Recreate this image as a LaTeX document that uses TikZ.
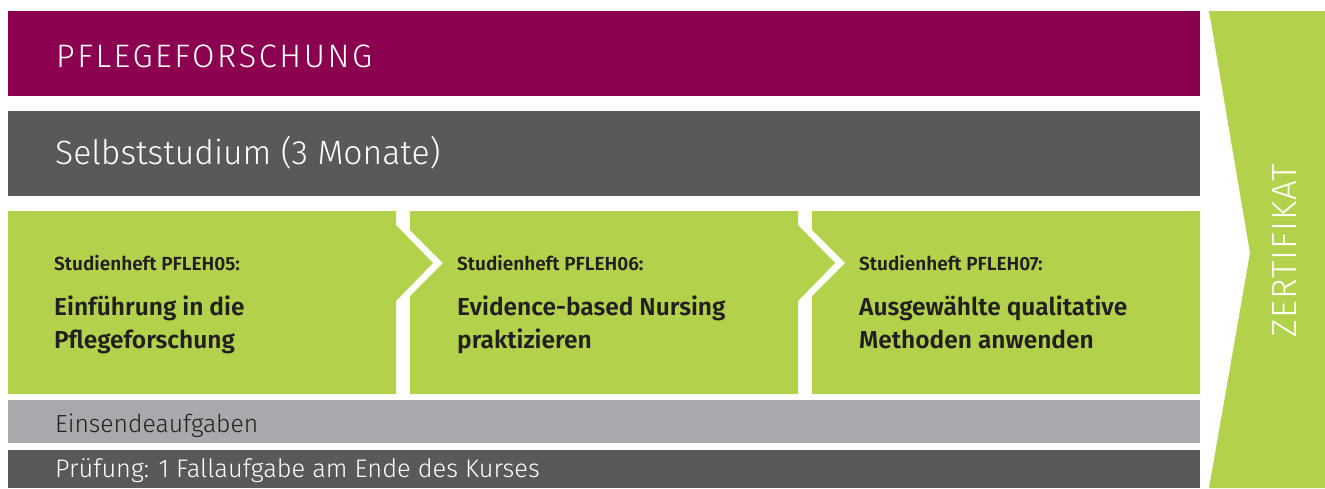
\documentclass[tikz,border=0pt]{standalone}
\usepackage{fontspec}
\setmainfont{Fira Sans}[BoldFont={Fira Sans SemiBold}]
\newfontfamily\lightfont{Fira Sans Light}
\definecolor{pfmagenta}{RGB}{139,0,79}
\definecolor{pfdark}{RGB}{88,89,91}
\definecolor{pfgreen}{RGB}{177,210,74}
\definecolor{pflight}{RGB}{167,169,172}
\definecolor{pftext}{RGB}{35,31,32}
\begin{document}
\begin{tikzpicture}[x=1pt, y=-1pt,
	bartext/.style={anchor=base west, inner sep=0pt, text=white},
	hefttext/.style={anchor=base west, inner sep=0pt, text=pftext, font=\bfseries\fontsize{19}{23}\selectfont},
	themetext/.style={anchor=base west, inner sep=0pt, text=pftext, align=left, font=\bfseries\fontsize{24.5}{33}\selectfont}]
	\useasboundingbox (0,0) rectangle (1325,488);
	
	\fill[pfmagenta]	(8,11) rectangle (1200,96);
	\fill[pfdark]		(8,111) rectangle (1200,196);
	\fill[pflight]		(8,400) rectangle (1200,443);
	\fill[pfdark]		(8,450) rectangle (1200,488);
	
	\fill[pfgreen] (8,211) -- (396,211) -- (396,225) -- (433,263) -- (396,301) -- (396,394) -- (8,394) -- cycle;
	\fill[pfgreen] (410,211) -- (798,211) -- (798,225) -- (835,263) -- (798,301) -- (798,394) -- (410,394) -- (410,296) -- (443,263) -- (410,230) -- cycle;
	\fill[pfgreen] (812,211) -- (1200,211) -- (1200,394) -- (812,394) -- (812,296) -- (845,263) -- (812,230) -- cycle;
	\fill[pfgreen] (1209,11) -- (1325,11) -- (1325,488) -- (1209,488) -- (1250,253) -- cycle;
	
	\node[bartext, font=\lightfont\addfontfeature{LetterSpace=8}\fontsize{32.5}{36}\selectfont] (title) at (56,67) {PFLEGEFORSCHUNG};
	\node[bartext, font=\lightfont\fontsize{33.7}{40}\selectfont] (selbst) at (55,164) {Selbststudium (3 Monate)};
	
	% lower line of each theme sits on the base
	\node[hefttext] (heft1) at (54,270) {Studienheft PFLEH05:};
	\node[themetext] (thema1) at (54,348) {Einführung in die\\Pflegeforschung};
	\node[hefttext] (heft2) at (457,270) {Studienheft PFLEH06:};
	\node[themetext] (thema2) at (457,348) {Evidence-based Nursing\\praktizieren};
	\node[hefttext] (heft3) at (859,270) {Studienheft PFLEH07:};
	\node[themetext] (thema3) at (859,348) {Ausgewählte qualitative\\Methoden anwenden};
	
	\node[bartext, text=pftext, font=\lightfont\fontsize{24.7}{30}\selectfont] (einsende) at (55,432) {Einsendeaufgaben};
	\node[bartext, font=\lightfont\fontsize{25.4}{30}\selectfont] (pruefung) at (55,477) {Prüfung: 1 Fallaufgabe am Ende des Kurses};
	
	\node[inner sep=0pt, text=white, rotate=90, font=\lightfont\addfontfeature{LetterSpace=3}\fontsize{35}{40}\selectfont] (zert) at (1284,251) {ZERTIFIKAT};
\end{tikzpicture}
\end{document}
